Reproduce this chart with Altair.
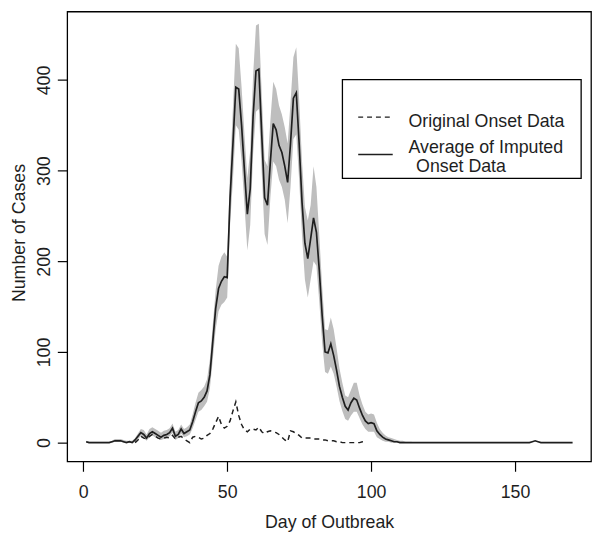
import altair as alt
import pandas as pd

# ---- data ----
days = list(range(1, 171))
mean_cases = [
    1, 0, 0, 0, 0, 0, 0, 0, 0, 1,
    2, 2, 2, 1, 0, 1, 0, 3, 7, 11,
    9, 5, 10, 12, 10, 8, 6, 8, 9, 11,
    16, 7, 9, 15, 10, 12, 14, 23, 34, 44,
    46, 50, 57, 75, 112, 148, 170, 178, 183, 182,
    270, 330, 392, 390, 350, 300, 252, 280, 360, 410,
    412, 340, 270, 262, 310, 352, 345, 328, 320, 305,
    287, 330, 380, 386, 330, 265, 220, 203, 225, 248,
    232, 190, 140, 100, 99, 109, 96, 80, 62, 50,
    40, 36, 44, 49, 47, 38, 30, 24, 21, 22,
    21, 13, 9, 6, 4, 3, 2, 1, 1, 0,
    0, 0, 0, 0, 0, 0, 0, 0, 0, 0,
    0, 0, 0, 0, 0, 0, 0, 0, 0, 0,
    0, 0, 0, 0, 0, 0, 0, 0, 0, 0,
    0, 0, 0, 0, 0, 0, 0, 0, 0, 0,
    0, 0, 0, 0, 0, 1, 2, 1, 0, 0,
    0, 0, 0, 0, 0, 0, 0, 0, 0, 0,
]

band_days = list(range(1, 116))
band_lower = [
    0, 0, 0, 0, 0, 0, 0, 0, 0, 0,
    1, 1, 1, 0, 0, 0, 0, 1, 4, 7,
    5, 2, 6, 8, 6, 4, 3, 4, 5, 7,
    11, 3, 5, 10, 6, 7, 9, 16, 25, 34,
    36, 40, 45, 60, 92, 125, 145, 152, 155, 160,
    240, 290, 350, 345, 310, 262, 212, 240, 318, 365,
    368, 298, 230, 218, 270, 310, 305, 290, 282, 268,
    242, 282, 335, 340, 290, 228, 180, 160, 180, 200,
    195, 155, 110, 78, 76, 84, 76, 62, 46, 35,
    26, 24, 30, 34, 34, 27, 20, 15, 12, 12,
    12, 6, 4, 2, 1, 1, 0, 0, 0, 0,
    0, 0, 0, 0, 0,
]
band_upper = [
    2, 1, 1, 1, 1, 1, 1, 1, 1, 2,
    4, 4, 4, 3, 2, 2, 2, 5, 10, 15,
    14, 9, 15, 17, 15, 13, 11, 13, 14, 16,
    21, 12, 14, 20, 15, 17, 20, 31, 44, 55,
    58, 62, 70, 92, 130, 168, 195, 205, 210, 205,
    300, 370, 440, 435, 392, 340, 292, 322, 405, 460,
    462, 385, 312, 305, 355, 398, 390, 372, 362, 348,
    330, 375, 425, 436, 378, 310, 260, 245, 262, 305,
    282, 228, 172, 125, 124, 138, 125, 104, 82, 66,
    52, 50, 58, 66, 66, 52, 42, 34, 31, 32,
    31, 22, 15, 11, 8, 6, 5, 4, 3, 2,
    2, 1, 1, 1, 0,
]

orig_days = list(range(18, 99))
orig_cases = [
    0, 3, 7,
    5, 4, 7, 9, 7, 5, 4, 5, 6, 5,
    8, 4, 6, 7, 4, 2, 0, 6, 7, 6,
    4, 5, 8, 10, 15, 22, 29, 20, 16, 18,
    24, 35, 45, 30, 20, 14, 12, 15, 15, 14,
    17, 12, 10, 12, 13, 12, 11, 9, 6, 3,
    1, 13, 12, 10, 8, 5, 5, 5, 5, 4,
    4, 4, 3, 3, 2, 2, 2, 1, 1, 0,
    0, 0, 0, 0, 0, 0, 1, 2,
]

x_ticks = [0, 50, 100, 150]
y_ticks = [0, 100, 200, 300, 400]
legend_labels = ["Original Onset Data", "Average of Imputed", "Onset Data"]

df_mean = pd.DataFrame({"day": days, "cases": mean_cases})
df_band = pd.DataFrame({"day": band_days, "lower": band_lower, "upper": band_upper})
df_orig = pd.DataFrame({"day": orig_days, "cases": orig_cases})
one = pd.DataFrame({"k": [0]})

FONT = "Liberation Sans"
INK = "#1e1e1e"

x_scale = alt.Scale(domain=[-5.59, 176.4], nice=False, zero=False)
y_scale = alt.Scale(domain=[-20.7, 475.5], nice=False, zero=False)

x_axis = alt.Axis(
    title="Day of Outbreak", values=x_ticks, grid=False, domain=False,
    tickSize=10, tickColor="black", tickWidth=1.2,
    labelFont=FONT, labelFontSize=18, labelColor=INK,
    labelBaseline="alphabetic", labelPadding=27, labelFlush=False,
    titleFont=FONT, titleFontSize=18, titleFontWeight="normal", titleColor=INK,
    titleBaseline="alphabetic", titleY=67,
)
y_axis = alt.Axis(
    title="Number of Cases", values=y_ticks, grid=False, domain=False,
    tickSize=10, tickColor="black", tickWidth=1.2,
    labelFont=FONT, labelFontSize=18, labelColor=INK,
    labelAngle=270, labelAlign="center", labelBaseline="alphabetic",
    labelPadding=8, labelFlush=False,
    titleFont=FONT, titleFontSize=18, titleFontWeight="normal", titleColor=INK,
    titleAngle=270, titleAlign="center", titleBaseline="alphabetic",
    titleX=-43, titleY=224,
)

band = alt.Chart(df_band).mark_area(color="#BEBEBE", opacity=1).encode(
    x=alt.X("day:Q", scale=x_scale, axis=x_axis),
    y=alt.Y("lower:Q", scale=y_scale, axis=y_axis),
    y2="upper:Q",
)
mean_line = alt.Chart(df_mean).mark_line(color=INK, strokeWidth=1.7).encode(
    x=alt.X("day:Q", scale=x_scale),
    y=alt.Y("cases:Q", scale=y_scale),
)
orig_line = alt.Chart(df_orig).mark_line(color=INK, strokeWidth=1.5, strokeDash=[5, 4]).encode(
    x=alt.X("day:Q", scale=x_scale),
    y=alt.Y("cases:Q", scale=y_scale),
)

# legend (drawn by hand, positioned in pixels inside the plot)
leg_box = alt.Chart(one).mark_rect(fill="white", stroke="black", strokeWidth=1.3).encode(
    x=alt.value(279), x2=alt.value(521), y=alt.value(69), y2=alt.value(169)
)
leg_dash = alt.Chart(one).mark_rule(color=INK, strokeWidth=1.5, strokeDash=[5, 4]).encode(
    x=alt.value(295), x2=alt.value(329), y=alt.value(107)
)
leg_solid = alt.Chart(one).mark_rule(color=INK, strokeWidth=1.5).encode(
    x=alt.value(295), x2=alt.value(330), y=alt.value(145)
)
txt = dict(align="left", baseline="alphabetic", font=FONT, fontSize=18, color=INK)
leg_t1 = alt.Chart(one).mark_text(**txt).encode(
    x=alt.value(346), y=alt.value(116.7), text=alt.value(legend_labels[0])
)
leg_t2 = alt.Chart(one).mark_text(**txt).encode(
    x=alt.value(346), y=alt.value(143.4), text=alt.value(legend_labels[1])
)
leg_t3 = alt.Chart(one).mark_text(**txt).encode(
    x=alt.value(353.7), y=alt.value(162.4), text=alt.value(legend_labels[2])
)

chart = alt.layer(
    band, mean_line, orig_line, leg_box, leg_dash, leg_solid, leg_t1, leg_t2, leg_t3
).properties(
    width=531, height=456,
    autosize=alt.AutoSizeParams(type="none"),
    padding={"left": 60, "top": 0, "right": 1, "bottom": 71},
    background="white",
).configure_view(stroke="black", strokeWidth=1.3)

chart.save("out.html", embed_options={"renderer": "svg", "actions": False})
